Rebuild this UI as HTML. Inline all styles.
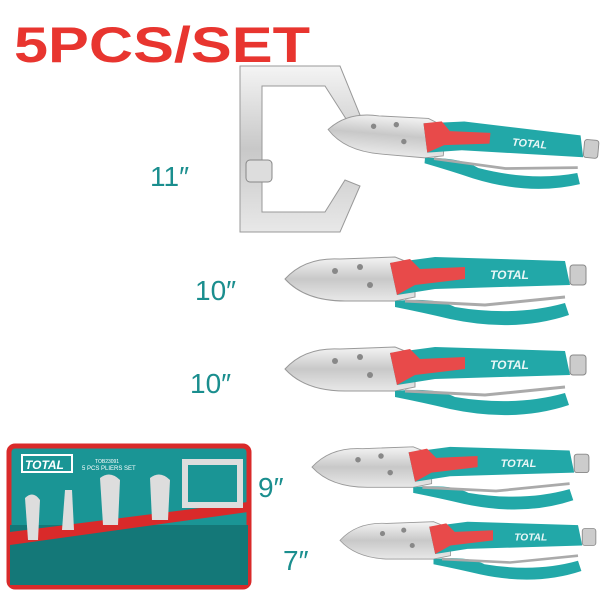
<!DOCTYPE html>
<html><head><style>
body{margin:0;width:600px;height:600px;background:#fff;overflow:hidden;font-family:"Liberation Sans",sans-serif}
</style></head><body>
<svg width="600" height="600" viewBox="0 0 600 600" xmlns="http://www.w3.org/2000/svg">
<defs>
<linearGradient id="s" x1="0" y1="0" x2="0" y2="1"><stop offset="0" stop-color="#f4f4f4"/><stop offset=".5" stop-color="#c8c8c8"/><stop offset="1" stop-color="#e8e8e8"/></linearGradient>
<g id="pl">
<path d="M0,24 Q20,2 55,4 L110,2 L130,10 L130,42 L110,46 L60,46 Q20,46 0,24Z" fill="url(#s)" stroke="#999" stroke-width="1"/>
<path d="M105,8 L150,2 L280,6 L285,30 L150,34 L112,40Z" fill="#22a8a8"/>
<path d="M105,8 L125,4 L135,14 L180,12 L180,24 L130,30 L112,40Z" fill="#e84a4a"/>
<text x="205" y="24" font-size="12" font-weight="bold" font-style="italic" fill="#e9f7f7">TOTAL</text>
<path d="M110,46 Q150,42 170,52 Q230,62 280,48 L284,60 Q230,78 165,64 Q140,58 110,52Z" fill="#22a8a8"/>
<path d="M120,46 L200,50 L280,42" fill="none" stroke="#aaa" stroke-width="3"/>
<rect x="285" y="10" width="16" height="20" rx="3" fill="#ccc" stroke="#888"/>
<circle cx="50" cy="16" r="3" fill="#888"/><circle cx="75" cy="12" r="3" fill="#888"/><circle cx="85" cy="30" r="3" fill="#888"/>
</g>
</defs>
<text x="14" y="62" font-size="50" font-weight="bold" fill="#e8352f" textLength="296" lengthAdjust="spacingAndGlyphs">5PCS/SET</text>
<g font-size="28" fill="#1a8e8e">
<text x="150" y="186">11″</text>
<text x="195" y="300">10″</text>
<text x="190" y="393">10″</text>
<text x="258" y="497">9″</text>
<text x="283" y="570">7″</text>
</g>
<path d="M240,66 L340,66 L360,115 L348,122 L325,86 L262,86 L262,212 L325,212 L345,180 L360,186 L340,232 L240,232Z" fill="url(#s)" stroke="#999"/>
<rect x="246" y="160" width="26" height="22" rx="4" fill="#ddd" stroke="#888"/>
<g transform="translate(330,108) rotate(5) scale(0.9)"><use href="#pl"/></g>
<g transform="translate(285,255)"><use href="#pl"/></g>
<g transform="translate(285,345)"><use href="#pl"/></g>
<g transform="translate(312,445) scale(0.92)"><use href="#pl"/></g>
<g transform="translate(340,520) scale(0.85)"><use href="#pl"/></g>
<rect x="9" y="446" width="240" height="141" rx="6" fill="#1a9595" stroke="#d92a2a" stroke-width="5"/>
<rect x="22" y="455" width="50" height="17" fill="none" stroke="#fff" stroke-width="2"/>
<text x="25" y="469" font-size="12" font-weight="bold" font-style="italic" fill="#fff">TOTAL</text>
<text x="95" y="463" font-size="5" fill="#fff">TOB23091</text>
<text x="82" y="470" font-size="6" fill="#fff">5 PCS PLIERS SET</text>
<rect x="10" y="525" width="238" height="60" fill="#147878"/>
<polygon points="10,532 248,502 248,512 10,545" fill="#d92a2a"/>
<g fill="#ddd">
<path d="M25,498 Q33,490 40,500 L38,540 L28,540Z"/>
<path d="M65,490 L72,490 L74,530 L62,530Z"/>
<path d="M100,478 Q110,470 120,480 L118,525 L103,525Z"/>
<path d="M150,478 Q160,470 170,480 L168,520 L152,520Z"/>
<path d="M185,462 L240,462 L240,505 L185,505Z" fill="none" stroke="#ddd" stroke-width="6"/>
</g>
</svg>
</body></html>
